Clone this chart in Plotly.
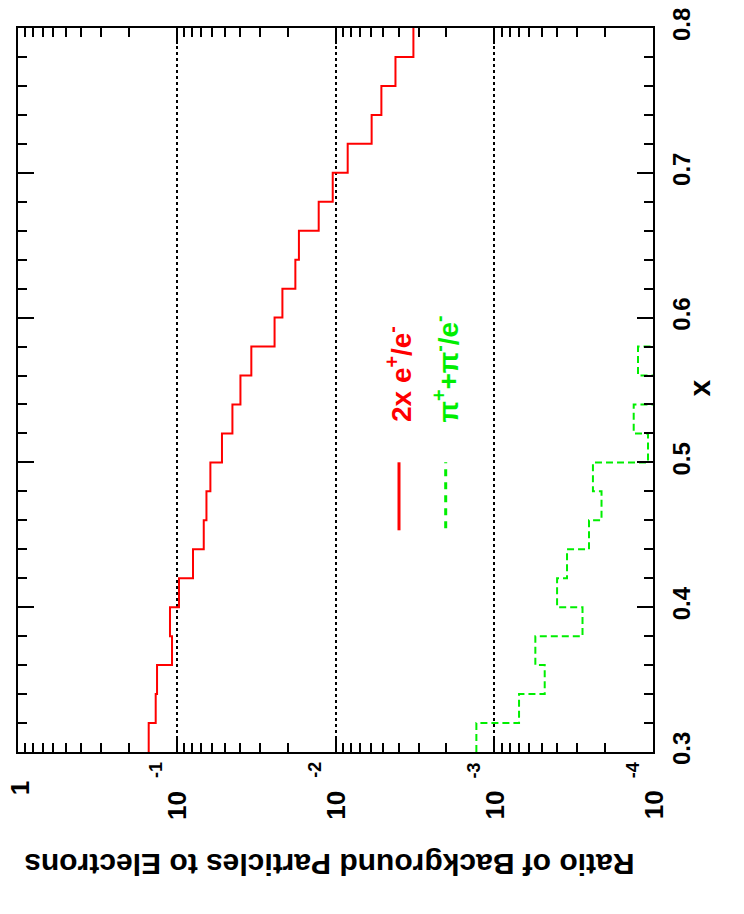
import math
import plotly.graph_objects as go

# ---- data ----
bin_edges = [0.30, 0.32, 0.34, 0.36, 0.38, 0.40, 0.42, 0.44, 0.46, 0.48,
             0.50, 0.52, 0.54, 0.56, 0.58, 0.60, 0.62, 0.64, 0.66, 0.68,
             0.70, 0.72, 0.74, 0.76, 0.78, 0.80]

# 2x e+/e- ratio per bin
red_vals = [0.1502, 0.1357, 0.1331, 0.1071, 0.1103, 0.0968, 0.0790, 0.0676,
            0.0650, 0.0614, 0.0519, 0.0446, 0.0397, 0.0339, 0.0242, 0.0216,
            0.0179, 0.0170, 0.01276, 0.01041, 0.00838, 0.00592, 0.00514,
            0.00419, 0.00323]

# (pi+ + pi-)/e- ratio per bin (0 = empty bin)
green_vals = [0.001296, 0.000698, 0.000481, 0.000551, 0.000278, 0.000402,
              0.000348, 0.000253, 0.000211, 0.000239, 0.0001075, 0.0001323,
              0.0, 0.0001243, 0.0, 0.0, 0.0, 0.0, 0.0, 0.0, 0.0, 0.0, 0.0,
              0.0, 0.0]

log_tick_vals = [1, 0.1, 0.01, 0.001, 0.0001]
log_tick_mant = ["1", "10", "10", "10", "10"]
log_tick_exp = ["", "-1", "-2", "-3", "-4"]
minor_log_vals = [m * d for d in [0.1, 0.01, 0.001, 0.0001] for m in range(2, 10)]
x_tick_vals = [0.3, 0.4, 0.5, 0.6, 0.7, 0.8]
x_tick_text = ["0.3", "0.4", "0.5", "0.6", "0.7", "0.8"]

FLOOR = 1e-6
red_x = red_vals + [red_vals[-1]]
green_plot = [v if v > 0 else FLOOR for v in green_vals]
green_x = green_plot + [green_plot[-1]]

RED = "#ff0000"
GREEN = "#00ee00"
FONT = "Liberation Sans, Arial, Helvetica, sans-serif"

# frame in reference page pixels (left, right, top, bottom)
FL, FR, FT, FB = 18.3, 653.3, 27.7, 751.7
FW, FH = FR - FL, FB - FT


def px(xp):
    return (xp - FL) / FW


def py(yp):
    return (FB - yp) / FH


fig = go.Figure()
fig.add_trace(go.Scatter(x=red_x, y=bin_edges, mode="lines", line_shape="vh",
                         line=dict(color=RED, width=2), showlegend=False,
                         name="2x e+/e-"))
fig.add_trace(go.Scatter(x=green_x, y=bin_edges, mode="lines", line_shape="vh",
                         line=dict(color=GREEN, width=2, dash="7px,4px"),
                         showlegend=False, name="pi+ + pi- / e-"))

# the page body adds an 8px margin, so the figure is 8px smaller and shifted
fig.update_layout(
    width=736, height=906,
    margin=dict(l=10, r=91, t=20, b=162, pad=0, autoexpand=False),
    paper_bgcolor="white", plot_bgcolor="white",
    showlegend=False,
    font=dict(family=FONT, color="black", size=22, weight="bold"),
)

fig.update_xaxes(
    type="log", range=[0, -4], automargin=False,
    tickvals=log_tick_vals, showticklabels=False,
    ticks="inside", ticklen=16, tickwidth=1.5, tickcolor="black",
    showline=True, linecolor="black", linewidth=2, mirror="ticks",
    showgrid=True, gridcolor="black", griddash="dot", gridwidth=2,
    minor=dict(tickvals=minor_log_vals, ticks="inside", ticklen=9,
               tickwidth=1.5, tickcolor="black", showgrid=False),
    zeroline=False,
)
fig.update_yaxes(
    range=[0.3, 0.8], side="right", automargin=False,
    tickvals=x_tick_vals, ticktext=x_tick_text, tickangle=-90,
    tickfont=dict(size=24, family=FONT, weight="bold"),
    ticklabeloverflow="allow",
    ticks="inside", ticklen=16, tickwidth=1.5, tickcolor="black",
    showline=True, linecolor="black", linewidth=2, mirror="ticks",
    showgrid=False, zeroline=False, ticklabelstandoff=6,
    minor=dict(dtick=0.02, ticks="inside", ticklen=9, tickwidth=1.5,
               tickcolor="black", showgrid=False),
)

annotations = []
# log-axis tick labels (rotated like the reference): mantissa + exponent
for v, m, e in zip(log_tick_vals, log_tick_mant, log_tick_exp):
    lx = math.log10(v)
    if e == "":
        annotations.append(dict(x=lx, xref="x", y=py(788), yref="paper",
                                text=m, textangle=-90, showarrow=False,
                                xshift=2,
                                font=dict(size=26, family=FONT, weight="bold"),
                                xanchor="center", yanchor="middle"))
    else:
        annotations.append(dict(x=lx, xref="x", y=py(805), yref="paper",
                                text=m, textangle=-90, showarrow=False,
                                xshift=1,
                                font=dict(size=26, family=FONT, weight="bold"),
                                xanchor="center", yanchor="middle"))
        annotations.append(dict(x=lx, xref="x", y=py(770), yref="paper",
                                text=e, textangle=-90, showarrow=False,
                                xshift=-20,
                                font=dict(size=18, family=FONT, weight="bold"),
                                xanchor="center", yanchor="middle"))
# axis titles
annotations.append(dict(x=px(718), xref="paper", y=py(388), yref="paper",
                        text="x", textangle=-90, showarrow=False,
                        font=dict(size=30, family=FONT, weight="bold")))
annotations.append(dict(x=px(330), xref="paper", y=py(882), yref="paper",
                        text="Ratio of Background Particles to Electrons",
                        textangle=180, showarrow=False,
                        font=dict(size=30, family=FONT, weight="bold")))
# legend texts
annotations.append(dict(x=px(400), xref="paper", y=py(424), yref="paper",
                        text="2x e<sup>+</sup>/e<sup>-</sup>", textangle=-90,
                        showarrow=False, xanchor="center", yanchor="bottom",
                        font=dict(size=28, family=FONT, weight="bold", color=RED)))
annotations.append(dict(x=px(446), xref="paper", y=py(424), yref="paper",
                        text="\u03c0<sup>+</sup>+\u03c0<sup>-</sup>/e<sup>-</sup>",
                        textangle=-90, showarrow=False, xanchor="center",
                        yanchor="bottom",
                        font=dict(size=28, family=FONT, weight="bold", color=GREEN)))
fig.update_layout(annotations=annotations)

shapes = [
    # legend line samples
    dict(type="line", xref="paper", yref="paper",
         x0=px(399.3), x1=px(399.3), y0=py(530), y1=py(462),
         line=dict(color=RED, width=3)),
    dict(type="line", xref="paper", yref="paper",
         x0=px(446), x1=px(446), y0=py(528), y1=py(462),
         line=dict(color=GREEN, width=3, dash="7px,6px")),
    # histogram outlines running along the frame edges
    dict(type="line", xref="x", yref="y", x0=0, x1=math.log10(red_vals[-1]),
         y0=bin_edges[-1], y1=bin_edges[-1], line=dict(color=RED, width=2)),
    dict(type="line", xref="x", yref="y", x0=0, x1=-4,
         y0=bin_edges[-1], y1=bin_edges[-1],
         line=dict(color=GREEN, width=2, dash="7px,4px")),
    dict(type="line", xref="x", yref="y",
         x0=math.log10(green_vals[0]), x1=math.log10(green_vals[1]),
         y0=bin_edges[0], y1=bin_edges[0],
         line=dict(color=GREEN, width=2, dash="7px,4px")),
]
fig.update_layout(shapes=shapes)

fig.write_html("out.html")
